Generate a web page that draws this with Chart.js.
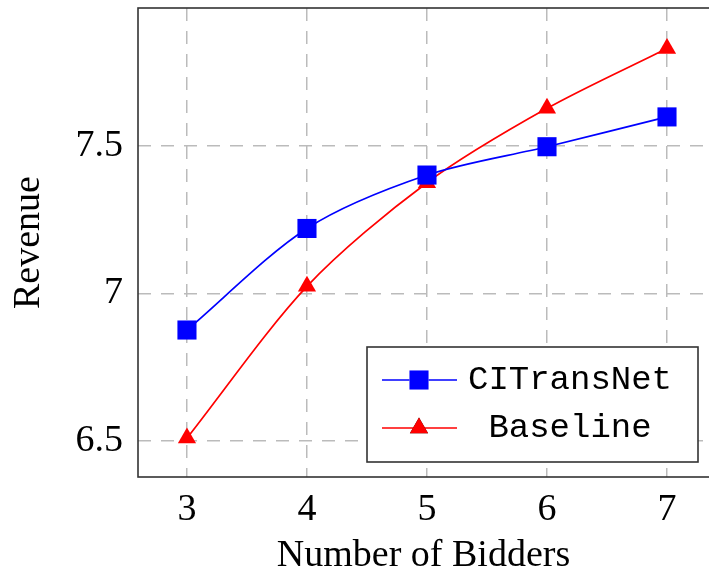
<!DOCTYPE html>
<html>
<head>
<meta charset="utf-8">
<script src="https://cdn.jsdelivr.net/npm/chart.js@4"></script>
<style>
  body { margin: 0; background: #fff; }
  #wrap { width: 709px; height: 579px; }
</style>
</head>
<body>
<div id="wrap"><canvas id="revenueChart" width="709" height="579"></canvas></div>
<script>
// --- data ---
const bidders = [3, 4, 5, 6, 7];
const ciTransNet = [6.876, 7.22, 7.401, 7.497, 7.598];
const baseline = [6.51, 7.024, 7.375, 7.627, 7.83];
const xTicks = [3, 4, 5, 6, 7];
const yTicks = [6.5, 7, 7.5];
const seriesNames = ["CITransNet", "Baseline"];

const serif = "'Liberation Serif', 'DejaVu Serif', serif";
const mono = "'Liberation Mono', 'DejaVu Sans Mono', monospace";

const toPoints = (ys) => bidders.map((x, i) => ({ x: x, y: ys[i] }));

// no extra room for edge labels, the plot box is fixed
const noPad = (scale) => {
  scale.paddingTop = 0;
  scale.paddingBottom = 0;
  scale.paddingLeft = 0;
  scale.paddingRight = 0;
};

// frame round the plot + legend box (pgfplots style)
const framePlugin = {
  id: "frame",
  afterDraw(chart) {
    const { ctx, chartArea: a } = chart;
    ctx.save();
    ctx.strokeStyle = "#333";
    ctx.lineWidth = 1.6;
    ctx.strokeRect(a.left, a.top, a.right - a.left + 2, a.bottom - a.top);

    // legend
    const box = { x: 367, y: 347, w: 331, h: 115 };
    ctx.fillStyle = "#fff";
    ctx.fillRect(box.x, box.y, box.w, box.h);
    ctx.strokeRect(box.x, box.y, box.w, box.h);
    const rows = [380, 428];
    chart.data.datasets.forEach((ds, i) => {
      const y = rows[i];
      ctx.strokeStyle = ds.borderColor;
      ctx.lineWidth = ds.borderWidth;
      ctx.beginPath();
      ctx.moveTo(382, y);
      ctx.lineTo(457, y);
      ctx.stroke();
      Chart.helpers.drawPoint(ctx, {
        pointStyle: ds.pointStyle,
        radius: ds.pointRadius,
        borderWidth: 0
      }, 419, y);
      ctx.fillStyle = ds.pointBackgroundColor;
      ctx.fill();
      ctx.fillStyle = "#000";
      ctx.font = "34px " + mono;
      ctx.textAlign = "center";
      ctx.textBaseline = "alphabetic";
      ctx.fillText(ds.label, 570, y + 9);
    });
    ctx.restore();
  }
};

const ctx = document.getElementById("revenueChart").getContext("2d");
new Chart(ctx, {
  type: "line",
  data: {
    datasets: [
      {
        label: seriesNames[0],
        data: toPoints(ciTransNet),
        borderColor: "#0000ff",
        backgroundColor: "#0000ff",
        pointBackgroundColor: "#0000ff",
        pointBorderWidth: 0,
        borderWidth: 1.7,
        pointStyle: "rect",
        pointRadius: 13.5,
        tension: 0.3
      },
      {
        label: seriesNames[1],
        data: toPoints(baseline),
        borderColor: "#ff0000",
        backgroundColor: "#ff0000",
        pointBackgroundColor: "#ff0000",
        pointBorderWidth: 0,
        borderWidth: 1.7,
        pointStyle: "triangle",
        pointRadius: 10.5,
        tension: 0.3
      }
    ]
  },
  options: {
    responsive: false,
    animation: false,
    layout: { autoPadding: false, padding: { top: 8, right: 0, left: 0, bottom: 0 } },
    plugins: {
      legend: { display: false },
      tooltip: { enabled: false }
    },
    scales: {
      x: {
        type: "linear",
        min: 2.592,
        max: 7.35,
        afterBuildTicks: (scale) => {
          scale.ticks = xTicks.map((v) => ({ value: v }));
        },
        afterFit: (scale) => { scale.height = 102; noPad(scale); },
        grid: { color: "#bbb", lineWidth: 1.5, drawTicks: false },
        border: { display: false, dash: [13, 10] },
        ticks: {
          color: "#000",
          font: { family: serif, size: 38 },
          padding: 10,
          maxRotation: 0,
          callback: (v) => String(v)
        },
        title: {
          display: true,
          text: "Number of Bidders",
          color: "#000",
          font: { family: serif, size: 38 },
          padding: { top: 0, bottom: 0 }
        }
      },
      y: {
        type: "linear",
        min: 6.378,
        max: 7.967,
        afterBuildTicks: (scale) => {
          scale.ticks = yTicks.map((v) => ({ value: v }));
        },
        afterFit: (scale) => { scale.width = 138; noPad(scale); },
        grid: { color: "#bbb", lineWidth: 1.5, drawTicks: false },
        border: { display: false, dash: [13, 10] },
        ticks: {
          color: "#000",
          font: { family: serif, size: 38 },
          padding: 15,
          callback: (v) => String(v)
        },
        title: {
          display: true,
          text: "Revenue",
          color: "#000",
          font: { family: serif, size: 38 },
          padding: { top: 6, bottom: 0 }
        }
      }
    }
  },
  plugins: [framePlugin]
});
</script>
</body>
</html>
